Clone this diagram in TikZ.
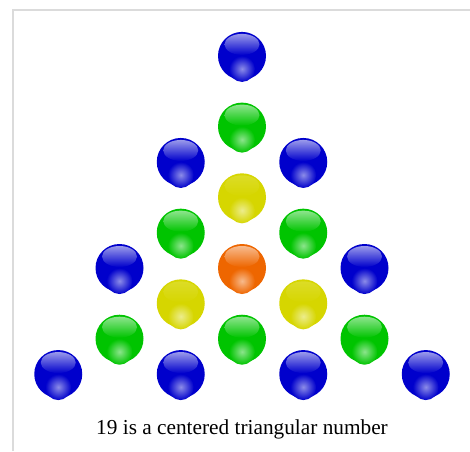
\documentclass[tikz,border=0pt]{standalone}
\usepackage{fontspec}
\setmainfont{Liberation Serif}
\definecolor{bblue}{HTML}{0000CC}
\definecolor{bgreen}{HTML}{00C400}
\definecolor{byellow}{HTML}{D6D600}
\definecolor{borange}{HTML}{EE6600}
\newcommand{\glossball}[4]{%
  \begin{scope}[shift={(#1,#2)}]
    \fill[#3] (0,0) circle (24);
    \shade[inner color=#3!45!white, outer color=#3] (0,-13) circle (13);
    \shade[top color=#3!#4!white, bottom color=#3] (0,11.5) ellipse (17.5 and 10.5);
  \end{scope}}
\begin{document}
\begin{tikzpicture}[x=1pt,y=1pt]
\useasboundingbox (0,0) rectangle (470,451);
\fill[white] (0,0) rectangle (470,451);
\draw[black!14, line width=2pt] (13,0) -- (13,441) -- (470,441);
\def\ox{242}\def\oy{183}\def\aa{61.25}\def\bb{35.35}
% orange
\glossball{\ox}{\oy}{borange}{45}
% yellow
\foreach \u/\v in {0/-2,-1/1,1/1}{\glossball{\ox+\u*\aa}{\oy-\v*\bb}{byellow}{85}}
% green
\foreach \u/\v in {0/-4,-1/-1,1/-1,-2/2,0/2,2/2}{\glossball{\ox+\u*\aa}{\oy-\v*\bb}{bgreen}{45}}
% blue
\foreach \u/\v in {0/-6,-1/-3,1/-3,-2/0,2/0,-3/3,-1/3,1/3,3/3}{\glossball{\ox+\u*\aa}{\oy-\v*\bb}{bblue}{40}}
\node[font=\fontsize{21.3}{25}\selectfont, inner sep=0pt] (caption) at (242,22) {19 is a centered triangular number};
\end{tikzpicture}
\end{document}
